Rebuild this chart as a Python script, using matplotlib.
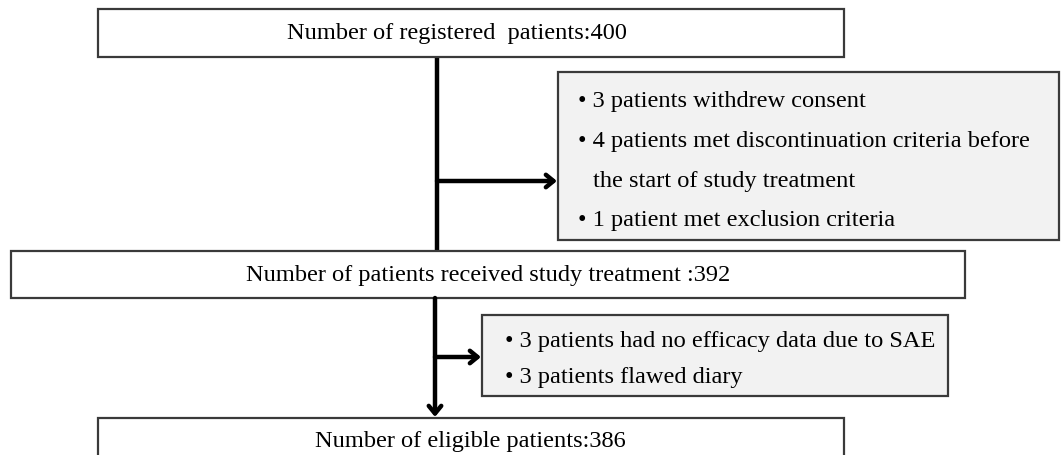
import matplotlib
matplotlib.use('Agg')
import matplotlib.pyplot as plt
from matplotlib.patches import Rectangle

plt.rcParams['font.family'] = ['Liberation Serif', 'DejaVu Serif']

# texts of the flow chart
registered = 'Number of registered  patients:400'
treated = 'Number of patients received study treatment :392'
eligible = 'Number of eligible patients:386'
excluded_1 = ['\u2022 3 patients withdrew consent',
              '\u2022 4 patients met discontinuation criteria before',
              'the start of study treatment',
              '\u2022 1 patient met exclusion criteria']
excluded_2 = ['\u2022 3 patients had no efficacy data due to SAE',
              '\u2022 3 patients flawed diary']

fig = plt.figure(figsize=(10.61, 4.55), dpi=100)
ax = fig.add_axes([0, 0, 1, 1])
ax.set_xlim(0, 1061)
ax.set_ylim(455, 0)
ax.axis('off')

fs = 17.6
edge = '#3a3a3a'
gray = '#f2f2f2'

def box(x0, y0, x1, y1, fill='white'):
    ax.add_patch(Rectangle((x0, y0), x1 - x0, y1 - y0, facecolor=fill,
                           edgecolor=edge, lw=1.6, zorder=2))

# main boxes
box(98, 9, 844, 57)
ax.text(457, 34, registered, ha='center', va='center', fontsize=fs, zorder=3)
box(11, 251, 965, 298)
ax.text(488, 275, treated, ha='center', va='center', fontsize=fs, zorder=3)
box(98, 418, 844, 470)
ax.text(470, 441, eligible, ha='center', va='center', fontsize=fs, zorder=3)

# exclusion boxes
box(558, 72, 1059, 240, fill=gray)
for i, line in enumerate(excluded_1):
    x = 578 if line.startswith('\u2022') else 593
    ax.text(x, 102 + i * 39.5, line, ha='left', va='center', fontsize=fs, zorder=3)
box(482, 315, 948, 396, fill=gray)
for i, line in enumerate(excluded_2):
    ax.text(505, 342 + i * 36, line, ha='left', va='center', fontsize=fs, zorder=3)

# connectors
arrow = dict(arrowstyle='->,head_length=0.55,head_width=0.45', lw=3.2,
             color='black', shrinkA=0, shrinkB=0)
ax.plot([437, 437], [57, 251], color='black', lw=3.2, zorder=1)
ax.annotate('', xy=(557, 181), xytext=(437, 181), arrowprops=arrow)
ax.annotate('', xy=(435, 417), xytext=(435, 298), arrowprops=arrow)
ax.annotate('', xy=(481, 357), xytext=(435, 357), arrowprops=arrow)

fig.savefig('out.png', dpi=100)
